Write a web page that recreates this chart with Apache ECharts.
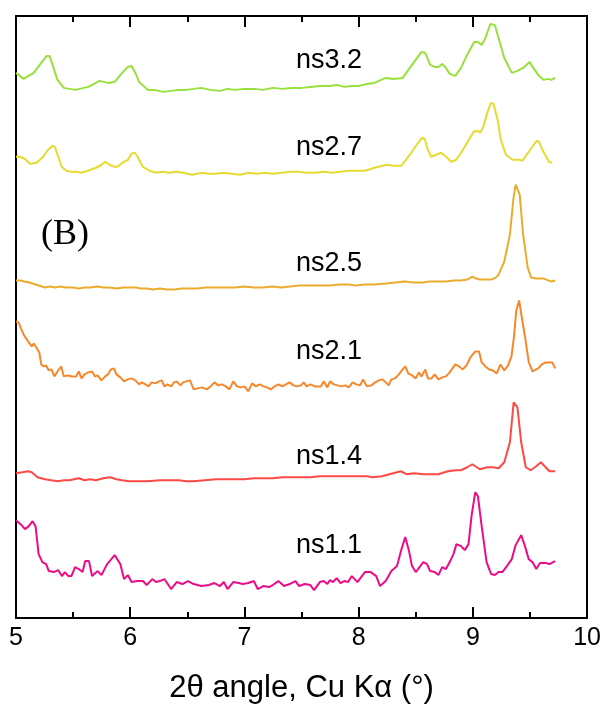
<!DOCTYPE html>
<html>
<head>
<meta charset="utf-8">
<script src="https://cdn.jsdelivr.net/npm/echarts@6/dist/echarts.min.js"></script>
<style>
  html, body { margin: 0; padding: 0; background: #fff; }
  #chart { width: 604px; height: 709px; }
</style>
</head>
<body>
<div id="chart"></div>
<script>
// Low-angle XRD patterns, stacked with vertical offsets (intensity in arbitrary units).
// Each entry: [2θ (degrees), offset intensity]

const ns32 = [[5.000,546],[5.066,540],[5.155,546],[5.221,556],[5.270,563],[5.293,563],[5.320,554],[5.363,539],[5.419,531],[5.517,529],[5.633,532],[5.732,538],[5.804,536],[5.864,537],[5.929,546],[5.979,552],[6.012,553],[6.045,546],[6.078,537],[6.154,529],[6.210,529],[6.292,527],[6.358,528],[6.420,529],[6.490,529],[6.560,530],[6.622,531],[6.700,529],[6.786,528],[6.850,530],[6.918,529],[7.000,530],[7.083,530],[7.160,529],[7.248,531],[7.330,530],[7.413,531],[7.500,531],[7.577,532],[7.660,533],[7.742,533],[7.810,534],[7.874,532],[7.940,533],[8.006,533],[8.070,535],[8.138,536],[8.237,541],[8.303,540],[8.385,541],[8.467,554],[8.550,567],[8.583,566],[8.626,554],[8.665,552],[8.698,552],[8.731,555],[8.764,551],[8.797,545],[8.846,543],[8.896,551],[8.945,563],[9.011,577],[9.044,577],[9.077,574],[9.110,581],[9.153,595],[9.192,594],[9.225,581],[9.275,561],[9.341,546],[9.390,548],[9.440,551],[9.496,557],[9.529,551],[9.572,544],[9.621,539],[9.654,540],[9.687,539],[9.720,541]];

const ns27 = [[5.000,462],[5.035,462],[5.078,460],[5.122,455],[5.180,456],[5.238,462],[5.280,469],[5.320,473],[5.340,472],[5.370,462],[5.400,452],[5.440,448],[5.485,447],[5.530,447],[5.570,446],[5.630,448],[5.700,451],[5.750,454],[5.780,457],[5.820,454],[5.860,452],[5.890,452],[5.930,456],[5.980,459],[6.010,465],[6.040,466],[6.065,462],[6.110,452],[6.170,448],[6.225,446],[6.280,447],[6.340,446],[6.400,447],[6.460,446],[6.545,444],[6.630,446],[6.690,445],[6.750,445],[6.820,446],[6.890,445],[6.960,444],[7.040,446],[7.110,445],[7.180,446],[7.250,445],[7.330,446],[7.400,447],[7.474,447],[7.540,446],[7.620,446],[7.690,447],[7.764,446],[7.840,447],[7.910,448],[7.980,448],[8.055,448],[8.140,451],[8.243,454],[8.310,453],[8.374,453],[8.460,466],[8.520,476],[8.554,481],[8.577,480],[8.606,469],[8.635,462],[8.679,464],[8.722,466],[8.766,462],[8.810,457],[8.853,459],[8.897,466],[8.955,477],[9.007,487],[9.042,488],[9.065,486],[9.094,493],[9.129,507],[9.158,516],[9.181,515],[9.216,499],[9.245,479],[9.289,464],[9.347,459],[9.405,459],[9.434,458],[9.477,465],[9.521,472],[9.558,478],[9.579,477],[9.617,467],[9.666,457],[9.695,456]];

const ns25 = [[5.000,338],[5.040,338],[5.073,337],[5.120,336],[5.171,334],[5.254,331],[5.300,332],[5.340,331],[5.390,332],[5.435,331],[5.500,331],[5.550,330],[5.600,331],[5.650,331],[5.710,332],[5.765,331],[5.820,331],[5.880,330],[5.940,331],[6.000,331],[6.050,331],[6.094,330],[6.150,330],[6.200,329],[6.260,330],[6.325,329],[6.390,329],[6.450,330],[6.520,330],[6.589,330],[6.660,331],[6.750,331],[6.830,331],[6.918,331],[7.000,332],[7.080,331],[7.160,331],[7.248,332],[7.320,331],[7.400,332],[7.480,333],[7.577,333],[7.660,333],[7.750,333],[7.830,334],[7.907,334],[7.980,333],[8.050,334],[8.140,334],[8.237,335],[8.320,336],[8.402,337],[8.480,336],[8.566,336],[8.620,337],[8.660,337],[8.764,337],[8.830,338],[8.896,338],[8.950,339],[8.995,342],[9.030,340],[9.061,339],[9.110,339],[9.160,339],[9.200,341],[9.225,344],[9.275,357],[9.324,384],[9.357,422],[9.375,434],[9.390,433],[9.410,424],[9.440,384],[9.480,351],[9.510,341],[9.555,340],[9.620,340],[9.687,337],[9.720,338]];

const ns21 = [[5.000,297],[5.023,296],[5.040,291],[5.066,284],[5.089,280],[5.112,276],[5.138,272],[5.155,275],[5.178,271],[5.204,266],[5.221,254],[5.244,252],[5.264,253],[5.287,248],[5.310,249],[5.336,242],[5.363,247],[5.396,252],[5.419,242],[5.452,243],[5.494,242],[5.527,242],[5.550,247],[5.574,240],[5.600,244],[5.633,246],[5.666,247],[5.692,242],[5.715,243],[5.748,238],[5.781,242],[5.804,244],[5.831,249],[5.857,250],[5.880,244],[5.913,241],[5.946,237],[5.979,239],[6.012,240],[6.045,238],[6.078,234],[6.101,236],[6.134,234],[6.160,232],[6.187,236],[6.220,235],[6.252,237],[6.276,238],[6.299,232],[6.325,234],[6.358,232],[6.384,236],[6.407,237],[6.440,233],[6.463,236],[6.490,237],[6.523,238],[6.556,229],[6.589,230],[6.628,231],[6.671,229],[6.704,232],[6.737,236],[6.770,233],[6.803,234],[6.836,232],[6.869,229],[6.902,237],[6.935,232],[6.968,231],[7.001,232],[7.034,227],[7.067,235],[7.100,232],[7.133,234],[7.166,232],[7.198,231],[7.231,229],[7.264,232],[7.297,234],[7.330,232],[7.363,234],[7.396,236],[7.429,233],[7.462,232],[7.495,233],[7.518,236],[7.545,232],[7.578,234],[7.617,232],[7.643,232],[7.670,232],[7.693,237],[7.726,231],[7.749,237],[7.782,234],[7.815,233],[7.848,232],[7.881,233],[7.914,231],[7.947,236],[7.980,234],[8.013,233],[8.039,239],[8.072,232],[8.111,233],[8.144,236],[8.177,238],[8.210,239],[8.237,236],[8.263,233],[8.286,239],[8.319,240],[8.352,244],[8.385,249],[8.408,252],[8.434,245],[8.467,243],[8.500,240],[8.527,246],[8.550,242],[8.583,249],[8.606,240],[8.639,240],[8.665,244],[8.698,239],[8.731,241],[8.764,242],[8.797,246],[8.846,254],[8.879,252],[8.912,249],[8.945,253],[8.978,261],[9.021,267],[9.054,267],[9.077,256],[9.110,252],[9.143,249],[9.176,248],[9.209,245],[9.242,254],[9.275,248],[9.308,253],[9.338,262],[9.360,282],[9.380,308],[9.405,318],[9.430,300],[9.456,282],[9.490,256],[9.522,247],[9.572,250],[9.604,254],[9.637,256],[9.670,256],[9.695,256],[9.720,250]];

const ns14 = [[5.000,145],[5.056,146],[5.105,147],[5.138,146],[5.188,141],[5.254,139],[5.310,138],[5.369,137],[5.420,138],[5.468,138],[5.550,140],[5.600,138],[5.650,139],[5.699,138],[5.765,140],[5.824,141],[5.880,139],[5.929,138],[5.990,137],[6.045,137],[6.150,137],[6.259,138],[6.340,138],[6.424,138],[6.490,137],[6.556,137],[6.650,138],[6.753,139],[6.830,139],[6.918,139],[7.000,139],[7.083,140],[7.160,140],[7.248,140],[7.330,141],[7.413,141],[7.500,141],[7.577,141],[7.660,142],[7.742,142],[7.820,142],[7.907,142],[7.990,142],[8.072,142],[8.121,141],[8.204,142],[8.303,145],[8.369,147],[8.418,144],[8.484,145],[8.566,144],[8.650,144],[8.698,144],[8.780,147],[8.850,148],[8.896,148],[8.950,151],[8.995,154],[9.061,149],[9.127,151],[9.176,151],[9.225,150],[9.275,156],[9.324,176],[9.357,216],[9.390,211],[9.423,176],[9.463,151],[9.506,148],[9.555,152],[9.595,156],[9.637,151],[9.671,147],[9.720,147]];

const ns11 = [[5.000,98],[5.040,94],[5.079,89],[5.112,92],[5.145,97],[5.171,92],[5.198,64],[5.231,56],[5.264,54],[5.287,47],[5.330,46],[5.369,48],[5.402,42],[5.428,46],[5.458,42],[5.485,42],[5.517,51],[5.550,49],[5.583,46],[5.606,57],[5.639,57],[5.666,42],[5.715,47],[5.748,43],[5.798,54],[5.864,63],[5.913,54],[5.946,39],[5.979,43],[6.012,36],[6.061,37],[6.111,37],[6.144,33],[6.193,39],[6.226,36],[6.259,37],[6.299,39],[6.358,29],[6.407,36],[6.457,34],[6.506,37],[6.556,34],[6.622,32],[6.688,33],[6.737,35],[6.786,32],[6.819,36],[6.852,29],[6.902,36],[6.951,35],[6.984,34],[7.034,35],[7.083,37],[7.116,29],[7.165,32],[7.215,31],[7.248,33],[7.297,37],[7.347,32],[7.396,34],[7.446,37],[7.479,32],[7.528,34],[7.577,33],[7.610,28],[7.660,36],[7.693,37],[7.726,34],[7.749,38],[7.775,36],[7.808,40],[7.841,35],[7.874,37],[7.907,36],[7.940,42],[7.989,36],[8.055,46],[8.105,46],[8.154,42],[8.187,32],[8.237,37],[8.286,47],[8.336,52],[8.375,69],[8.408,81],[8.441,67],[8.467,52],[8.500,46],[8.533,51],[8.566,56],[8.599,54],[8.626,47],[8.665,46],[8.698,43],[8.731,51],[8.764,49],[8.797,56],[8.830,64],[8.856,74],[8.896,72],[8.929,68],[8.962,74],[8.988,102],[9.021,126],[9.044,122],[9.077,92],[9.120,56],[9.160,44],[9.193,43],[9.225,46],[9.258,46],[9.298,52],[9.341,59],[9.374,73],[9.423,83],[9.456,72],[9.489,59],[9.522,56],[9.555,49],[9.588,55],[9.637,55],[9.671,54],[9.720,57]];

const sampleNames = ['ns3.2', 'ns2.7', 'ns2.5', 'ns2.1', 'ns1.4', 'ns1.1'];
const patterns = [ns32, ns27, ns25, ns21, ns14, ns11];
const lineColors = ['#98e03c', '#e6db30', '#ebab2d', '#f6882b', '#fd4a45', '#ec0c88'];
const xTicks = [5, 6, 7, 8, 9, 10];

const chart = echarts.init(document.getElementById('chart'), null, { renderer: 'canvas' });

const GRID = { left: 16, right: 14, top: 16, bottom: 90 };
const sansFont = "'Liberation Sans', Arial, sans-serif";

// label positions for each trace (pixel layout)
const labelTops = [63, 150, 266, 354, 459, 548];

const xAxisCommon = {
  type: 'value',
  min: xTicks[0],
  max: xTicks[xTicks.length - 1],
  interval: 1,
  splitLine: { show: false },
  axisLine: { show: true, onZero: false, lineStyle: { color: '#000', width: 2 } },
  axisTick: { show: true, inside: true, length: 11, lineStyle: { color: '#000', width: 2 } },
  minorTick: { show: true, splitNumber: 2, length: 6, lineStyle: { color: '#000', width: 2 } },
  minorSplitLine: { show: false }
};

const option = {
  backgroundColor: '#fff',
  animation: false,
  grid: Object.assign({ show: false, containLabel: false }, GRID),
  xAxis: [
    Object.assign({}, xAxisCommon, {
      position: 'bottom',
      axisLabel: { show: true, color: '#000', fontSize: 25, fontFamily: sansFont, margin: 8 },
      name: '2θ angle, Cu Kα (°)',
      nameLocation: 'middle',
      nameGap: 55,
      nameTextStyle: { color: '#000', fontSize: 31, fontFamily: sansFont }
    }),
    Object.assign({}, xAxisCommon, {
      position: 'top',
      axisLabel: { show: false }
    })
  ],
  yAxis: [
    {
      type: 'value', min: 0, max: 603, position: 'left',
      axisLine: { show: true, onZero: false, lineStyle: { color: '#000', width: 2 } },
      axisTick: { show: false }, axisLabel: { show: false }, splitLine: { show: false }
    },
    {
      type: 'value', min: 0, max: 603, position: 'right',
      axisLine: { show: true, onZero: false, lineStyle: { color: '#000', width: 2 } },
      axisTick: { show: false }, axisLabel: { show: false }, splitLine: { show: false }
    }
  ],
  series: patterns.map((data, i) => ({
    name: sampleNames[i],
    type: 'line',
    xAxisIndex: 0,
    yAxisIndex: 0,
    data: data,
    showSymbol: false,
    symbol: 'none',
    smooth: false,
    lineStyle: { color: lineColors[i], width: 2 },
    z: 3
  })),
  graphic: sampleNames.map((name, i) => ({
    type: 'text',
    left: 296,
    top: labelTops[i] - 16,
    style: { text: name, fill: '#000', font: "27px 'Liberation Sans', Arial, sans-serif" }
  })).concat([{
    type: 'text',
    left: 41,
    top: 217,
    style: { text: '(B)', fill: '#000', font: "36px 'Liberation Serif', 'Times New Roman', serif" }
  }])
};

chart.setOption(option);
</script>
</body>
</html>
